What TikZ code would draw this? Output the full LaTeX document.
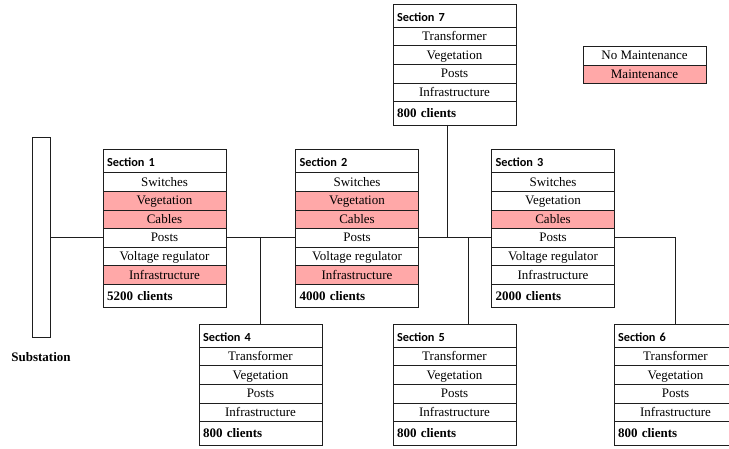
\documentclass[tikz,border=0pt]{standalone}
\usepackage{fontspec}
\setmainfont{Liberation Serif}
\newfontfamily\secfont{Carlito}
\usetikzlibrary{calc}

\definecolor{maint}{RGB}{255,168,168}
\definecolor{edge}{RGB}{30,30,30}

\def\secHh{23.3}
\def\secRh{18.6}

% One section: name, x, y (top-left), title, rows (text/fill), clients
\newcommand\secbox[6]{%
  \node[hdr] (#1-h) at (#2,#3) {#4};
  \foreach \txt/\clr [count=\k] in {#5}{
    \node[item, fill=\clr] (#1-\k) at (#2,{#3+\secHh+(\k-1)*\secRh}) {\txt};
    \xdef\lastk{\k}
  }
  \node[ftr] (#1-f) at (#2,{#3+\secHh+\lastk*\secRh}) {#6};
}

\tikzset{
  cell/.style={draw=edge, line width=0.9pt, inner sep=0pt, outer sep=0pt, anchor=north west},
  hdr/.style={cell, fill=white, minimum height=23.3pt, inner xsep=4pt, text width=115pt, align=left,
    text height=11pt, text depth=0pt,
    font=\secfont\bfseries\fontsize{12.3}{14}\selectfont},
  ftr/.style={cell, fill=white, minimum height=23.3pt, inner xsep=4pt, text width=115pt, align=left,
    text height=10pt, text depth=0.8pt,
    font=\bfseries\fontsize{13}{15}\selectfont},
  item/.style={cell, minimum width=123pt, minimum height=18.6pt, text height=9.5pt, text depth=1.5pt,
    font=\fontsize{13}{15}\selectfont},
  wire/.style={draw=edge, line width=0.9pt},
}

\begin{document}
\begin{tikzpicture}[x=1pt,y=-1pt]
\useasboundingbox (0,0) rectangle (729,449);

% substation bus bar
\node[draw=edge, line width=0.9pt, minimum width=17.5pt, minimum height=200.5pt, inner sep=0pt] (sub) at (41.25,237.25) {};
\node[font=\bfseries\fontsize{13}{15}\selectfont] (sublabel) at (41,357) {Substation};

% legend
\node[item, fill=white] (leg1) at (583,46.7) {No Maintenance};
\node[item, fill=maint] (leg2) at (583,65.3) {Maintenance};

% sections
\secbox{s1}{103}{149.5}{Section 1}{Switches/white,Vegetation/maint,Cables/maint,Posts/white,Voltage regulator/white,Infrastructure/maint}{5200 clients}
\secbox{s2}{295.5}{149.5}{Section 2}{Switches/white,Vegetation/maint,Cables/maint,Posts/white,Voltage regulator/white,Infrastructure/maint}{4000 clients}
\secbox{s3}{491.5}{149.5}{Section 3}{Switches/white,Vegetation/white,Cables/maint,Posts/white,Voltage regulator/white,Infrastructure/white}{2000 clients}
\secbox{s7}{393}{4}{Section 7}{Transformer/white,Vegetation/white,Posts/white,Infrastructure/white}{800 clients}
\secbox{s4}{199}{324}{Section 4}{Transformer/white,Vegetation/white,Posts/white,Infrastructure/white}{800 clients}
\secbox{s5}{393}{324}{Section 5}{Transformer/white,Vegetation/white,Posts/white,Infrastructure/white}{800 clients}
\secbox{s6}{614}{324}{Section 6}{Transformer/white,Vegetation/white,Posts/white,Infrastructure/white}{800 clients}

% feeder connections
\coordinate (j7) at (447,0);
\coordinate (j5) at (468,0);
\path[wire] (s1-4.west -| sub.east) -- (s1-4.west);
\path[wire] (s1-4.east) -- (s2-4.west);
\path[wire] (s2-4.east) -- (s3-4.west);
\path[wire] (s3-4.east) -| (s6-h.north);
\path[wire] (s4-h.north) -- (s4-h.north |- s1-4.east);
\path[wire] (j7 |- s7-f.south) -- (j7 |- s2-4.east);
\path[wire] (j5 |- s5-h.north) -- (j5 |- s2-4.east);
\end{tikzpicture}
\end{document}
